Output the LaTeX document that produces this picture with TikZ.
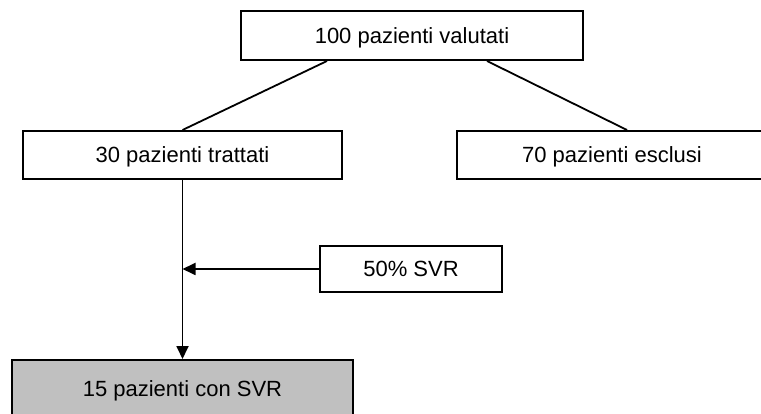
\documentclass[tikz,border=0pt]{standalone}
\usepackage{fontspec}
\setmainfont{Liberation Sans}
\usetikzlibrary{arrows.meta}
\definecolor{boxgray}{RGB}{192,192,192}
\tikzset{
  flowbox/.style={draw=black, line width=2pt, fill=white, inner sep=0pt,
    font=\fontsize{22}{26}\selectfont, text height=16pt, text depth=0pt},
  conn/.style={line width=1.8pt},
  arr/.style={conn, -{Triangle[length=13pt,width=12pt]}}
}
\begin{document}
\begin{tikzpicture}[x=1pt,y=-1pt]
\useasboundingbox (0,0) rectangle (761,414);
\node[flowbox, minimum width=342pt, minimum height=49pt] (top) at (412,35.5) {100 pazienti valutati};
\node[flowbox, minimum width=319pt, minimum height=48pt] (left) at (182.5,155) {30 pazienti trattati};
\node[flowbox, minimum width=310pt, minimum height=48pt] (right) at (612,155) {70 pazienti esclusi};
\node[flowbox, minimum width=182pt, minimum height=46pt] (svr) at (411,269) {50\% SVR};
\node[flowbox, fill=boxgray, minimum width=341pt, minimum height=56pt] (bottom) at (182.5,388) {15 pazienti con SVR};
\draw[conn] ([xshift=-85pt]top.south) -- (left.north);
\draw[conn] ([xshift=75pt]top.south) -- ([xshift=15pt]right.north);
\draw[arr] (left.south) -- (bottom.north);
\draw[arr] (svr.west) -- (svr.west -| left.south);
\end{tikzpicture}
\end{document}
